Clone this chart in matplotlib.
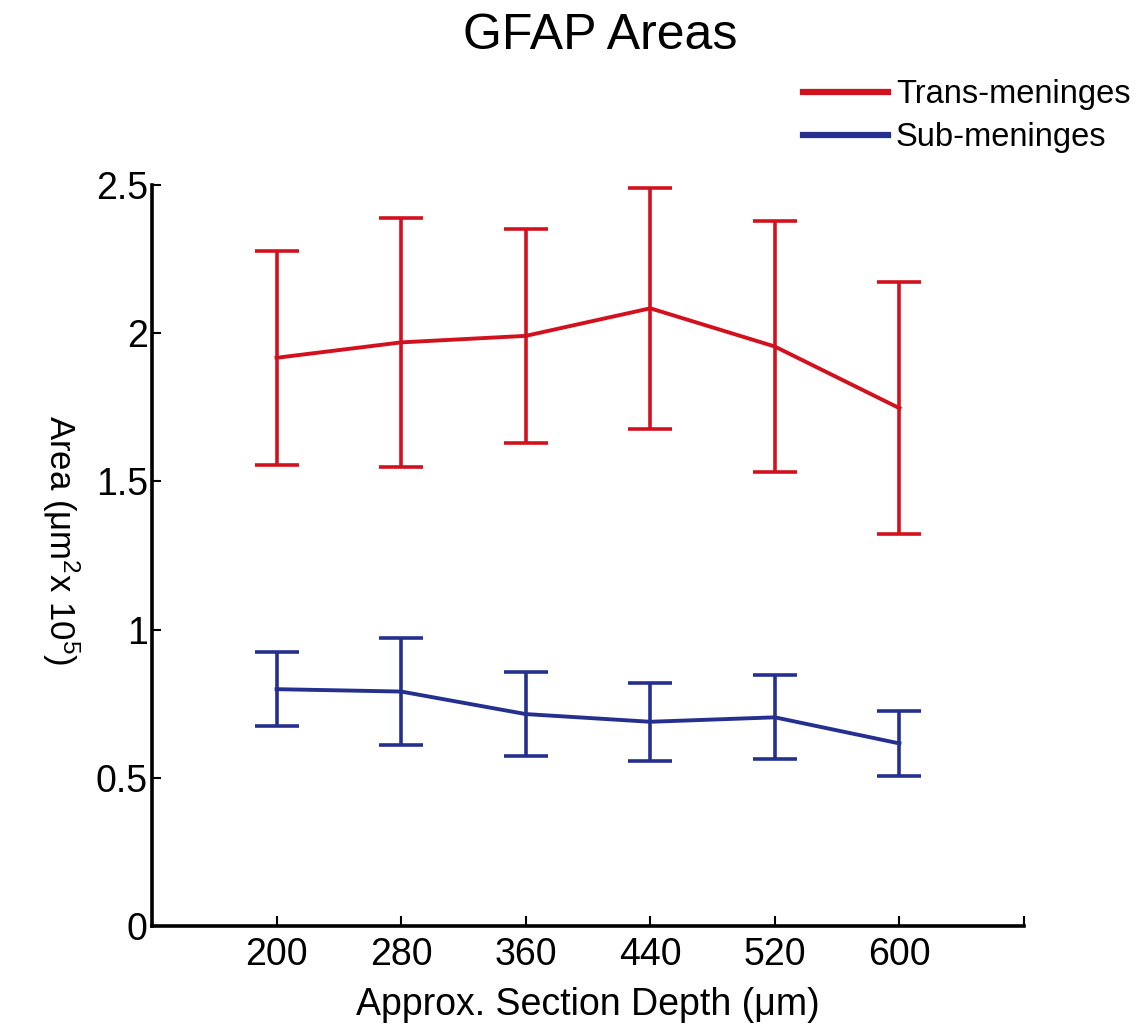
import matplotlib
matplotlib.use('Agg')
import matplotlib.pyplot as plt

plt.rcParams['font.family'] = ['Liberation Sans', 'DejaVu Sans']
plt.rcParams['mathtext.fontset'] = 'custom'
plt.rcParams['mathtext.rm'] = 'Liberation Sans'
plt.rcParams['mathtext.default'] = 'regular'

depth = [200, 280, 360, 440, 520, 600]
trans_mean = [1.917, 1.969, 1.991, 2.084, 1.955, 1.747]
trans_err = [0.360, 0.420, 0.362, 0.407, 0.424, 0.425]
sub_mean = [0.799, 0.791, 0.715, 0.689, 0.704, 0.616]
sub_err = [0.125, 0.179, 0.141, 0.132, 0.142, 0.109]

red = '#d2111f'
blue = '#25308e'

fig = plt.figure(figsize=(11.42, 10.27), dpi=100)
ax = fig.add_axes([152 / 1142, 1 - 926 / 1027, 872 / 1142, 741 / 1027])

eb1 = ax.errorbar(depth, trans_mean, yerr=trans_err, color=red, lw=2.8, elinewidth=2.6,
                  capsize=15.5, capthick=2.6)
eb2 = ax.errorbar(depth, sub_mean, yerr=sub_err, color=blue, lw=2.8, elinewidth=2.6,
                  capsize=15.5, capthick=2.6)

ax.set_xlim(120, 680)
ax.set_ylim(0, 2.5)
ax.set_xticks(depth)
ax.set_xticks([680], minor=True)
ax.set_yticks([0, 0.5, 1, 1.5, 2, 2.5])
ax.set_yticklabels(['0', '0.5', '1', '1.5', '2', '2.5'])

for s in ['top', 'right']:
    ax.spines[s].set_visible(False)
for s in ['left', 'bottom']:
    ax.spines[s].set_linewidth(2.6)
ax.tick_params(axis='both', which='both', direction='in', width=1.5, labelsize=27)
ax.tick_params(axis='x', which='both', length=7, pad=8)
ax.tick_params(axis='y', length=6.5, pad=3)

ax.set_xlabel('Approx. Section Depth (μm)', fontsize=27, labelpad=10)
ax.set_ylabel('Area (μm$^2$x 10$^5$)', fontsize=25, rotation=-90, va='center', ha='center')
ax.yaxis.set_label_coords(-0.105, 0.52)

fig.text(600 / 1142, 1 - 36 / 1027, 'GFAP Areas', fontsize=36, ha='center', va='center')

leg = ax.legend([eb1.lines[0], eb2.lines[0]], ['Trans-meninges', 'Sub-meninges'],
                loc='upper left', bbox_to_anchor=(803 / 1142, 1 - 79 / 1027),
                bbox_transform=fig.transFigure, frameon=False, fontsize=23.5,
                handlelength=2.6, handletextpad=0.25, labelspacing=0.38,
                borderpad=0, borderaxespad=0)
for h in leg.legend_handles:
    h.set_linewidth(4.5)

fig.savefig('out.png', dpi=100)
